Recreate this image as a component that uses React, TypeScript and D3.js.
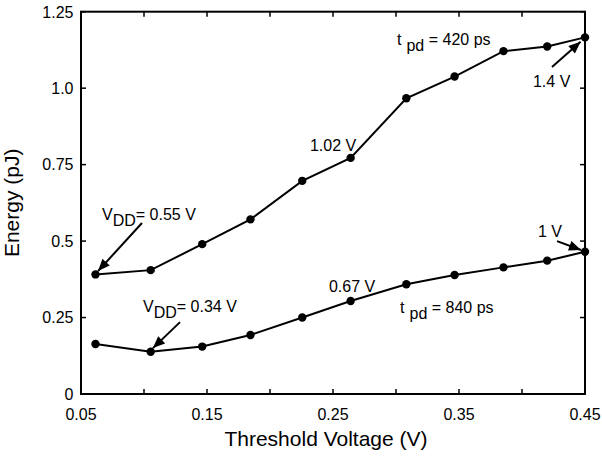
import React from 'react';
import * as d3 from 'd3';

const thresholdV = [0.0615, 0.1053, 0.1462, 0.1845, 0.2256, 0.264, 0.3082, 0.3465, 0.3853, 0.42, 0.45];
const energy420 = [0.391, 0.405, 0.49, 0.571, 0.697, 0.772, 0.967, 1.038, 1.121, 1.136, 1.166];
const energy840 = [0.1635, 0.138, 0.155, 0.193, 0.25, 0.304, 0.359, 0.389, 0.414, 0.436, 0.465];

const xTickValues = [0.05, 0.1, 0.15, 0.2, 0.25, 0.3, 0.35, 0.4, 0.45];
const xTickLabelValues = [0.05, 0.15, 0.25, 0.35, 0.45];
const xTickLabels = ['0.05', '0.15', '0.25', '0.35', '0.45'];
const yTickValues = [0, 0.25, 0.5, 0.75, 1.0, 1.25];
const yTickLabels = ['0', '0.25', '0.5', '0.75', '1.0', '1.25'];

const xTitle = 'Threshold Voltage (V)';
const yTitle = 'Energy (pJ)';

// annotations in data units
const labels = [
  { main: 't', sub: 'pd', rest: ' = 420 ps', x: 0.3008, y: 1.141, space: true },
  { main: '1.4 V', sub: '', rest: '', x: 0.4087, y: 1.004, space: false },
  { main: '1.02 V', sub: '', rest: '', x: 0.2317, y: 0.795, space: false },
  { main: 'V', sub: 'DD', rest: '= 0.55 V', x: 0.0667, y: 0.569, space: false },
  { main: 'V', sub: 'DD', rest: '= 0.34 V', x: 0.0992, y: 0.268, space: false },
  { main: '0.67 V', sub: '', rest: '', x: 0.2468, y: 0.334, space: false },
  { main: 't', sub: 'pd', rest: ' = 840 ps', x: 0.3032, y: 0.265, space: true },
  { main: '1 V', sub: '', rest: '', x: 0.4127, y: 0.512, space: false },
];
const arrows = [
  { x1: 0.4238, y1: 1.069, x2: 0.4465, y2: 1.152 },
  { x1: 0.0984, y1: 0.559, x2: 0.0635, y2: 0.402 },
  { x1: 0.1286, y1: 0.235, x2: 0.1071, y2: 0.15 },
  { x1: 0.4278, y1: 0.5, x2: 0.4468, y2: 0.471 },
];

const W = 602;
const H = 457;
const left = 81;
const right = 585;
const top = 11.7;
const bottom = 394;
const FONT = '"Liberation Sans", Arial, Helvetica, sans-serif';

export default function App() {
  const x = d3.scaleLinear().domain([0.05, 0.45]).range([left, right]);
  const y = d3.scaleLinear().domain([0, 1.25]).range([bottom, top]);
  const line = d3
    .line<number>()
    .x((_, i) => x(thresholdV[i]))
    .y((d) => y(d));

  const series = [energy420, energy840];
  const tickLen = 5;

  return (
    <svg
      width={W}
      height={H}
      style={{ position: 'absolute', left: 0, top: 0, background: '#fff' }}
      fontFamily={FONT}
    >
      <defs>
        <marker
          id="ah"
          viewBox="0 0 12 10"
          refX="12"
          refY="5"
          markerWidth="13"
          markerHeight="10"
          markerUnits="userSpaceOnUse"
          orient="auto"
        >
          <path d="M0,0 L12,5 L0,10 Z" fill="#000" />
        </marker>
      </defs>
      <rect x={0} y={0} width={W} height={H} fill="#fff" />

      {/* ticks */}
      {xTickValues.map((v, i) => (
        <g key={'xt' + i}>
          <line x1={x(v)} x2={x(v)} y1={bottom} y2={bottom - tickLen} stroke="#000" strokeWidth={1.5} />
          <line x1={x(v)} x2={x(v)} y1={top} y2={top + tickLen} stroke="#000" strokeWidth={1.5} />
        </g>
      ))}
      {yTickValues.map((v, i) => (
        <g key={'yt' + i}>
          <line x1={left} x2={left + tickLen} y1={y(v)} y2={y(v)} stroke="#000" strokeWidth={1.5} />
          <line x1={right} x2={right - tickLen} y1={y(v)} y2={y(v)} stroke="#000" strokeWidth={1.5} />
        </g>
      ))}

      {/* frame */}
      <rect x={left} y={top} width={right - left} height={bottom - top} fill="none" stroke="#000" strokeWidth={2} />

      {/* tick labels */}
      {xTickLabelValues.map((v, i) => (
        <text key={'xl' + i} x={x(v)} y={419.5} fontSize={16} textAnchor="middle" fill="#000">
          {xTickLabels[i]}
        </text>
      ))}
      {yTickValues.map((v, i) => (
        <text key={'yl' + i} x={73.5} y={y(v) + 5.8} fontSize={16} textAnchor="end" fill="#000">
          {yTickLabels[i]}
        </text>
      ))}

      {/* titles */}
      <text x={326} y={446} fontSize={21} textAnchor="middle" fill="#000">
        {xTitle}
      </text>
      <text transform={`translate(19,${(top + bottom) / 2}) rotate(-90)`} fontSize={21} textAnchor="middle" fill="#000">
        {yTitle}
      </text>

      {/* series */}
      {series.map((s, si) => (
        <g key={'s' + si}>
          <path d={line(s) || ''} fill="none" stroke="#000" strokeWidth={2} />
          {s.map((d, i) => (
            <circle key={i} cx={x(thresholdV[i])} cy={y(d)} r={4.2} fill="#000" />
          ))}
        </g>
      ))}

      {/* arrows */}
      {arrows.map((a, i) => (
        <line
          key={'a' + i}
          x1={x(a.x1)}
          y1={y(a.y1)}
          x2={x(a.x2)}
          y2={y(a.y2)}
          stroke="#000"
          strokeWidth={2}
          markerEnd="url(#ah)"
        />
      ))}

      {/* labels */}
      {labels.map((l, i) => (
        <text key={'l' + i} x={x(l.x)} y={y(l.y)} fontSize={16} fill="#000" xmlSpace="preserve">
          <tspan>{l.main}</tspan>
          {l.sub ? (
            <>
              <tspan dx={l.space ? 5 : 0} dy={6}>
                {l.sub}
              </tspan>
              <tspan dy={-6}>{l.rest}</tspan>
            </>
          ) : null}
        </text>
      ))}
    </svg>
  );
}
